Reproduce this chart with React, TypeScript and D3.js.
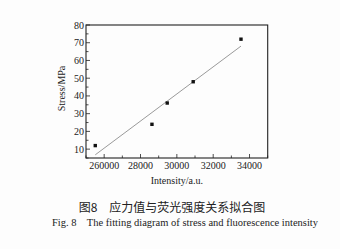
import React from "react";
import * as d3 from "d3";

const intensity = [25510, 28630, 29470, 30900, 33530];
const stress = [12, 24, 36, 48, 72];
const fitX = [25510, 33530];
const fitY = [6.8, 68.1];
const xTicks = [26000, 28000, 30000, 32000, 34000];
const xTickLabels = ["260000", "28000", "30000", "32000", "34000"];
const yTicks = [10, 20, 30, 40, 50, 60, 70, 80];
const captionCn = "图8　应力值与荧光强度关系拟合图";
const captionEn = "Fig. 8    The fitting diagram of stress and fluorescence intensity";

const W = 340, H = 249;
const L = 86, R = 267.7, T = 25, B = 158;

export default function App() {
  const x = d3.scaleLinear().domain([25000, 35000]).range([L, R]);
  const y = d3.scaleLinear().domain([5, 80]).range([B, T]);
  const xMinor = d3.range(25000, 35001, 1000);
  const yMinor = d3.range(5, 81, 5);
  const line = d3.line<number>().x((_, i) => x(fitX[i])).y((d) => y(d));
  const font = "'Liberation Serif', 'DejaVu Serif', serif";
  const ink = "#222";
  return (
    <svg width={W} height={H} style={{ position: "absolute", left: 0, top: 0, background: "#fdfdfd" }} fontFamily={font}>
      <rect x={0} y={0} width={W} height={H} fill="#fdfdfd" />
      {xMinor.map((v) => {
        const major = xTicks.includes(v);
        return <line key={"xm" + v} x1={x(v)} x2={x(v)} y1={B} y2={B - (major ? 4 : 2.5)} stroke={ink} strokeWidth={0.8} />;
      })}
      {yMinor.map((v) => {
        const major = v % 10 === 0;
        return <line key={"ym" + v} x1={L} x2={L + (major ? 4 : 2.5)} y1={y(v)} y2={y(v)} stroke={ink} strokeWidth={0.8} />;
      })}
      <rect x={L} y={T} width={R - L} height={B - T} fill="none" stroke={ink} strokeWidth={1.1} />
      {xTicks.map((v, i) => (
        <text key={"xt" + v} x={x(v)} y={B + 11} textAnchor="middle" fontSize={10} fill={ink}>{xTickLabels[i]}</text>
      ))}
      {yTicks.map((v) => (
        <text key={"yt" + v} x={L - 2} y={y(v) + 3.5} textAnchor="end" fontSize={10} fill={ink}>{v}</text>
      ))}
      <text x={(L + R) / 2} y={184} textAnchor="middle" fontSize={10} fill={ink}>Intensity/a.u.</text>
      <text transform={`translate(65,${(T + B) / 2 - 3}) rotate(-90)`} textAnchor="middle" fontSize={10} fill={ink}>Stress/MPa</text>
      <path d={line(fitY) || ""} fill="none" stroke="#9a9a9a" strokeWidth={1} />
      {intensity.map((v, i) => (
        <rect key={"p" + i} x={x(v) - 1.7} y={y(stress[i]) - 1.7} width={3.4} height={3.4} fill="#111" />
      ))}
      <text x={172} y={212} textAnchor="middle" fontSize={12} fill={ink} fontFamily="'Noto Sans CJK SC', sans-serif">{captionCn}</text>
      <text x={185} y={226} textAnchor="middle" fontSize={10.5} fill={ink} style={{ whiteSpace: "pre" }}>{captionEn}</text>
    </svg>
  );
}
